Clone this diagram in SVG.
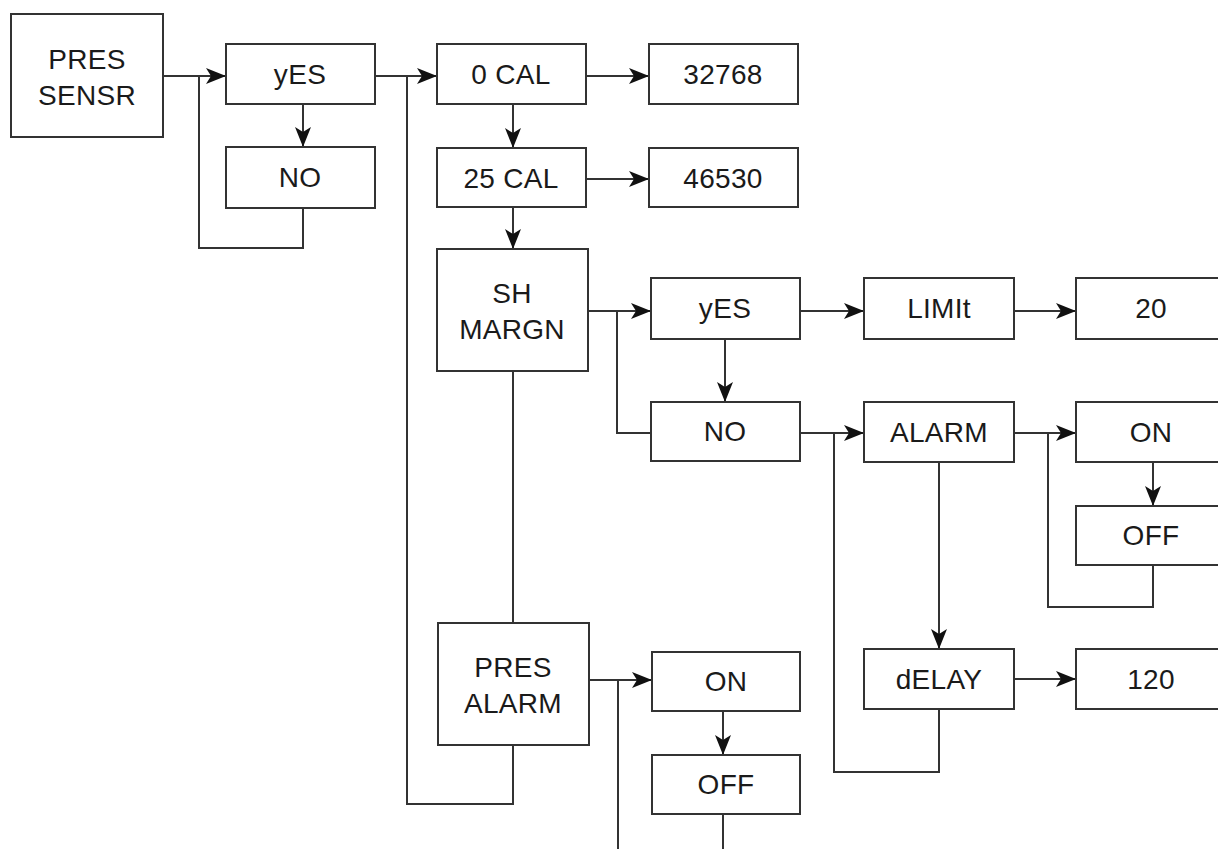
<svg xmlns="http://www.w3.org/2000/svg" width="1218" height="849" viewBox="0 0 1218 849">
<style>
.b{fill:#fff;stroke:#333;stroke-width:2}
.t{font-family:"Liberation Sans",Arial,sans-serif;font-size:28px;letter-spacing:0.3px;fill:#1a1a1a;text-anchor:middle}
.c{fill:none;stroke:#333;stroke-width:2}
.a{marker-end:url(#arr)}
</style>
<defs>
<marker id="arr" markerUnits="userSpaceOnUse" markerWidth="22" markerHeight="18" refX="20" refY="8" orient="auto">
<path d="M0,0 L20,8 L0,16 L5,8 Z" fill="#111"/>
</marker>
</defs>
<rect width="1218" height="849" fill="#fff"/>
<g id="connectors">
<path class="c a" d="M163,76 H226"/>
<path class="c" d="M303,208 V248 H199 V76"/>
<path class="c a" d="M303,104 V147"/>
<path class="c a" d="M375,76 H437"/>
<path class="c a" d="M586,76 H649"/>
<path class="c a" d="M513,104 V148"/>
<path class="c a" d="M586,179 H649"/>
<path class="c a" d="M513,207 V249"/>
<path class="c a" d="M588,311 H651"/>
<path class="c" d="M651,433 H617 V311"/>
<path class="c a" d="M725,339 V402"/>
<path class="c a" d="M800,311 H864"/>
<path class="c a" d="M1014,311 H1076"/>
<path class="c a" d="M800,433 H864"/>
<path class="c a" d="M1014,433 H1076"/>
<path class="c a" d="M1153,462 V506"/>
<path class="c" d="M1153,565 V607 H1048 V433"/>
<path class="c a" d="M939,462 V649"/>
<path class="c a" d="M1014,679 H1076"/>
<path class="c" d="M939,709 V772 H834 V433"/>
<path class="c" d="M513,371 V623"/>
<path class="c" d="M513,745 V804 H407 V76"/>
<path class="c a" d="M589,680 H652"/>
<path class="c" d="M618,680 V849"/>
<path class="c a" d="M723,711 V755"/>
<path class="c" d="M723,814 V849"/>
</g>
<g id="n-pres-sensr"><rect class="b" x="11" y="14" width="152" height="123"/><text class="t" x="87" y="69">PRES</text><text class="t" x="87" y="105">SENSR</text></g>
<g id="n-yes1"><rect class="b" x="226" y="44" width="149" height="60"/><text class="t" x="300" y="84">yES</text></g>
<g id="n-no1"><rect class="b" x="226" y="147" width="149" height="61"/><text class="t" x="300" y="187">NO</text></g>
<g id="n-0cal"><rect class="b" x="437" y="44" width="149" height="60"/><text class="t" x="511" y="84">0 CAL</text></g>
<g id="n-32768"><rect class="b" x="649" y="44" width="149" height="60"/><text class="t" x="723" y="84">32768</text></g>
<g id="n-25cal"><rect class="b" x="437" y="148" width="149" height="59"/><text class="t" x="511" y="188">25 CAL</text></g>
<g id="n-46530"><rect class="b" x="649" y="148" width="149" height="59"/><text class="t" x="723" y="188">46530</text></g>
<g id="n-sh-margn"><rect class="b" x="437" y="249" width="151" height="122"/><text class="t" x="512" y="303">SH</text><text class="t" x="512" y="339">MARGN</text></g>
<g id="n-yes2"><rect class="b" x="651" y="278" width="149" height="61"/><text class="t" x="725" y="318">yES</text></g>
<g id="n-no2"><rect class="b" x="651" y="402" width="149" height="59"/><text class="t" x="725" y="441">NO</text></g>
<g id="n-limit"><rect class="b" x="864" y="278" width="150" height="61"/><text class="t" x="939" y="318">LIMIt</text></g>
<g id="n-20"><rect class="b" x="1076" y="278" width="150" height="61"/><text class="t" x="1151" y="318">20</text></g>
<g id="n-alarm"><rect class="b" x="864" y="402" width="150" height="60"/><text class="t" x="939" y="442">ALARM</text></g>
<g id="n-on1"><rect class="b" x="1076" y="402" width="150" height="60"/><text class="t" x="1151" y="442">ON</text></g>
<g id="n-off1"><rect class="b" x="1076" y="506" width="150" height="59"/><text class="t" x="1151" y="545">OFF</text></g>
<g id="n-delay"><rect class="b" x="864" y="649" width="150" height="60"/><text class="t" x="939" y="689">dELAY</text></g>
<g id="n-120"><rect class="b" x="1076" y="649" width="150" height="60"/><text class="t" x="1151" y="689">120</text></g>
<g id="n-pres-alarm"><rect class="b" x="438" y="623" width="151" height="122"/><text class="t" x="513" y="677">PRES</text><text class="t" x="513" y="713">ALARM</text></g>
<g id="n-on2"><rect class="b" x="652" y="652" width="148" height="59"/><text class="t" x="726" y="691">ON</text></g>
<g id="n-off2"><rect class="b" x="652" y="755" width="148" height="59"/><text class="t" x="726" y="794">OFF</text></g>
</svg>
